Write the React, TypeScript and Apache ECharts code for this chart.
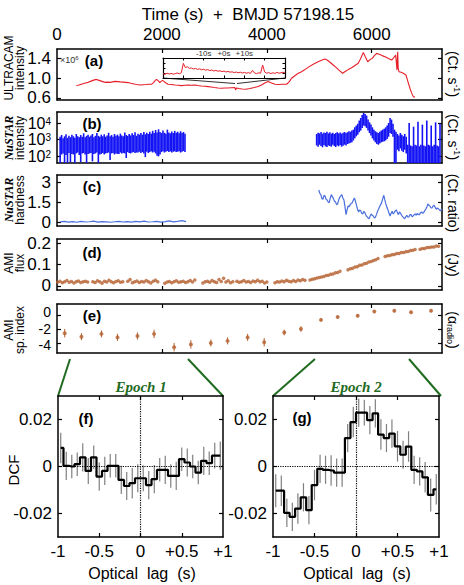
import { useEffect, useRef } from "react";
import * as echarts from "echarts";

const FONT = "Liberation Sans, Arial, Helvetica, sans-serif";
const SERIF = "Liberation Serif, Times New Roman, serif";

// ---------- shared time axis ----------
const timeMax = 7340;
const timeLabels = [0, 2000, 4000, 6000];
const timeTicks = [2000, 4000, 6000];

// ---------- (a) ULTRACAM intensity (x10^6 Ct/s) ----------
const ultracamTime = [370, 420, 480, 540, 592, 650, 700, 751, 790, 830, 870, 910, 960, 1010, 1060, 1110, 1164, 1210, 1260, 1310, 1355, 1410, 1470, 1520, 1578, 1640, 1700, 1750, 1801, 1840, 1870, 1896, 1920, 1945, 1960, 1985, 2011, 2040, 2070, 2118, 2180, 2250, 2310, 2373, 2440, 2500, 2560, 2627, 2690, 2750, 2810, 2881, 2940, 3000, 3070, 3137, 3200, 3260, 3320, 3390, 3405, 3420, 3470, 3530, 3600, 3680, 3760, 3835, 3900, 3960, 4026, 4080, 4154, 4220, 4300, 4377, 4430, 4472, 4520, 4600, 4663, 4720, 4800, 4885, 4950, 5030, 5108, 5150, 5210, 5266, 5320, 5380, 5445, 5500, 5560, 5617, 5680, 5743, 5790, 5839, 5880, 5923, 5970, 6010, 6050, 6094, 6140, 6200, 6253, 6320, 6380, 6420, 6457, 6482, 6495, 6505, 6520, 6560, 6602, 6653, 6690, 6729, 6760, 6793, 6825];
const ultracamFlux = [0.85, 0.86, 0.88, 0.9, 0.915, 0.94, 0.96, 0.975, 0.96, 0.945, 0.93, 0.915, 0.92, 0.915, 0.925, 0.935, 0.93, 0.925, 0.92, 0.915, 0.91, 0.895, 0.88, 0.87, 0.86, 0.865, 0.87, 0.875, 0.875, 0.91, 0.95, 0.975, 0.955, 0.93, 0.91, 0.935, 0.955, 0.935, 0.905, 0.875, 0.87, 0.86, 0.855, 0.848, 0.855, 0.86, 0.855, 0.862, 0.85, 0.84, 0.835, 0.828, 0.82, 0.81, 0.8, 0.795, 0.8, 0.8, 0.805, 0.807, 0.76, 0.8, 0.79, 0.78, 0.775, 0.79, 0.81, 0.83, 0.86, 0.9, 0.93, 0.905, 0.876, 0.87, 0.875, 0.876, 0.93, 0.998, 1.04, 1.1, 1.132, 1.17, 1.23, 1.283, 1.32, 1.36, 1.39, 1.37, 1.32, 1.268, 1.22, 1.16, 1.1, 1.14, 1.18, 1.213, 1.26, 1.303, 1.4, 1.526, 1.43, 1.335, 1.38, 1.404, 1.46, 1.506, 1.49, 1.46, 1.437, 1.4, 1.37, 1.42, 1.471, 1.167, 1.539, 1.2, 1.132, 1.12, 1.1, 1.065, 0.93, 0.795, 0.7, 0.624, 0.612];

// inset: +-30 s around a flare
const insetStart = -30;
const insetStep = 1;
const insetFlux = [2.2, 1.8, 2.4, 2.0, 2.3, 1.9, 2.2, 2.5, 2.1, 2.6, 7.3, 5.2, 5.6, 4.8, 5.0, 4.5, 4.8, 4.3, 4.6, 4.1, 4.4, 3.9, 4.2, 3.7, 4.0, 3.5, 3.8, 3.4, 3.6, 3.2, 3.5, 3.0, 3.3, 2.9, 3.1, 2.7, 3.0, 2.6, 2.9, 2.5, 2.8, 2.4, 2.7, 2.3, 3.8, 2.5, 2.2, 2.6, 2.4, 6.5, 3.0, 2.4, 2.7, 2.2, 2.6, 2.3, 2.8, 2.4, 2.6, 2.9, 2.5];

// ---------- (b) NuSTAR intensity (Ct/s): per-bin min / max ----------
const nustarBin = 28;
const nustar1Start = 60;
const nustarHi1 = [
  1500, 1900, 1200, 1600, 2100, 1300, 1700, 1400, 2000, 1600,
  1300, 2200, 1600, 1400, 1900, 1500, 2400, 1400, 1700, 2000,
  1500, 1800, 2200, 1400, 1700, 2500, 1700, 1500, 2000, 1600,
  2100, 1500, 1800, 2600, 1600, 1900, 1500, 2200, 1700, 2000,
  1600, 2300, 1800, 1600, 2700, 1900, 1700, 2200, 1800, 2400,
  1900, 2800, 1700, 2300, 2000, 2500, 2000, 2900, 2100, 2600,
  2200, 3000, 2300, 3400, 2500, 3800, 2700, 4200, 2900, 2500,
  3500, 2600, 2300, 4000, 2700, 2400, 3100, 2500, 3400, 2600,
  3000, 2400, 3200, 2500, 2900, 2300,
];
const nustarLo1 = [
  40, 130, 150, 40, 120, 35, 160, 45, 140, 130,
  40, 150, 170, 120, 45, 150, 160, 130, 40, 140,
  150, 160, 50, 140, 150, 170, 40, 130, 140, 160,
  130, 150, 160, 170, 60, 150, 160, 130, 150, 140,
  140, 170, 150, 160, 150, 80, 180, 160, 150, 170,
  180, 160, 170, 170, 190, 160, 180, 150, 90, 190,
  160, 180, 200, 170, 190, 150, 110, 100, 130, 180,
  200, 170, 190, 210, 180, 200, 170, 190, 200, 180,
  190, 200, 170, 190, 210, 180,
];
const nustar2Start = 4950;
const nustarHi2 = [
  2200, 2600, 2400, 2900, 2300, 2700, 2500, 3000, 2400, 2800,
  2300, 2600, 2200, 2500, 2800, 2400, 2700, 2300, 2600, 2900,
  2500, 2800, 3200, 3000, 3500,
  4000, 5500, 7000, 9000, 14000, 20000,
  30000, 40000, 35000, 28000,
  16000, 11000, 8000, 5500, 4000, 3200, 2800, 2500,
  3000, 3500, 4000, 4500, 5500, 7000, 10000,
  20000, 16000, 9000,
  4000, 3000,
  2200, 1800, 2500, 2000, 1600, 2200, 1500,
  500, 10000, 450, 400, 6000, 500, 450, 12000, 400, 500, 8000, 450, 400, 14000, 500, 450, 7000, 400, 500, 11000, 450, 400, 9000,
];
const nustarLo2 = [
  450, 380, 500, 420, 350, 480, 400, 360, 450, 420,
  380, 500, 420, 360, 450, 400, 480, 380, 430, 500,
  450, 550, 600, 650, 700,
  900, 1200, 1600, 2000, 2800, 3500,
  5000, 7000, 6500, 5000,
  3500, 2500, 1800, 1200, 900, 700, 550, 500,
  600, 700, 750, 800, 900, 1100, 1500,
  2500, 2200, 1500,
  12, 12,
  250, 200, 300, 220, 180, 250, 150,
  15, 15, 15, 15, 15, 15, 15, 15, 15, 15, 15, 15, 15, 15, 15, 15, 15, 15, 15, 15, 15, 15, 15,
];

// ---------- (c) NuSTAR hardness (Ct. ratio) ----------
const hardness1Start = 60;
const hardness1Step = 80;
const hardness1 = [0.06, 0.1, 0.04, 0.08, 0.03, 0.09, 0.05, 0.07, 0.11, 0.04, 0.08, 0.06, 0.03, 0.07, 0.1, 0.05, 0.08, 0.04, 0.09, 0.06, 0.12, 0.05, 0.07, 0.1, 0.04, 0.08, 0.13, 0.06, 0.1, 0.15, 0.08];
const hardness2Time = [4990, 5010, 5030, 5050, 5070, 5090, 5110, 5130, 5150, 5170, 5190, 5210, 5230, 5250, 5270, 5290, 5310, 5330, 5350, 5370, 5390, 5410, 5430, 5450, 5470, 5490, 5510, 5530, 5550, 5570, 5590, 5610, 5630, 5650, 5670, 5690, 5710, 5730, 5750, 5770, 5790, 5810, 5830, 5850, 5870, 5890, 5910, 5930, 5950, 5970, 5990, 6010, 6030, 6050, 6070, 6090, 6110, 6130, 6150, 6170, 6190, 6210, 6230, 6250, 6270, 6290, 6310, 6330, 6350, 6370, 6390, 6410, 6430, 6450, 6470, 6490, 6510, 6530, 6550, 6570, 6590, 6610, 6630, 6650, 6670, 6690, 6710, 6730, 6750, 6770, 6790, 6810, 6830, 6850, 6870, 6890, 6910, 6930, 6950, 6970, 6990, 7010, 7030, 7050, 7070, 7090, 7110, 7130, 7150, 7170, 7190, 7210, 7230, 7250, 7270, 7290, 7310, 7330, 7340];
const hardness2 = [2.45, 2.2, 2.1, 1.8, 1.75, 2.05, 2.0, 1.75, 1.7, 1.55, 1.5, 1.85, 2.1, 1.95, 1.8, 1.6, 1.55, 1.35, 1.4, 1.7, 1.9, 2.0, 2.1, 1.85, 1.7, 1.2, 0.6, 0.95, 1.25, 1.2, 1.35, 1.45, 1.5, 1.7, 1.85, 1.6, 1.3, 1.0, 0.8, 0.95, 0.9, 0.7, 0.65, 0.85, 0.75, 0.55, 0.45, 0.35, 0.3, 0.5, 0.65, 0.55, 0.5, 0.35, 0.4, 0.6, 0.85, 1.0, 1.2, 1.35, 1.5, 1.8, 2.05, 1.7, 1.4, 1.15, 0.95, 0.7, 0.5, 0.7, 0.85, 0.65, 0.75, 0.9, 0.95, 0.75, 0.6, 0.8, 0.7, 0.55, 0.45, 0.35, 0.3, 0.45, 0.55, 0.4, 0.45, 0.6, 0.6, 0.45, 0.5, 0.6, 0.65, 0.55, 0.7, 0.6, 0.6, 0.75, 0.8, 0.7, 0.75, 0.9, 1.0, 1.15, 1.4, 1.3, 1.25, 1.1, 1.1, 1.25, 1.3, 1.15, 1.0, 1.1, 1.05, 0.95, 0.9, 1.0, 1.05];

// ---------- (d) AMI flux (Jy) ----------
const amiFluxSegStart = [13, 683, 1349, 2055, 2780, 3429, 4155, 4823, 5548, 6255, 6922];
const amiFluxStep = 44;
const amiFluxSeg1 = [0.018, 0.022, 0.015, 0.02, 0.025, 0.017, 0.021, 0.014, 0.02, 0.023, 0.016, 0.019, 0.022, 0.018];
const amiFluxSeg2 = [0.02, 0.016, 0.024, 0.019, 0.013, 0.022, 0.018, 0.026, 0.02, 0.015, 0.021, 0.024, 0.017, 0.02];
const amiFluxSeg3 = [0.022, 0.03, 0.015, 0.019, 0.023, 0.016, 0.021, 0.018, 0.025, 0.02, 0.014, 0.022, 0.027, 0.019];
const amiFluxSeg4 = [0.012, 0.018, 0.021, 0.015, 0.02, 0.024, 0.017, 0.019, 0.022, 0.016, 0.02, 0.025, 0.018, 0.028];
const amiFluxSeg5 = [0.014, 0.019, 0.022, 0.017, 0.025, 0.02, 0.016, 0.03, 0.021, 0.036, 0.018, 0.024, 0.015, 0.02];
const amiFluxSeg6 = [0.022, 0.017, 0.02, 0.025, 0.018, 0.021, 0.016, 0.023, 0.02, 0.027, 0.019, 0.022, 0.014, 0.018];
const amiFluxSeg7 = [0.015, 0.02, 0.018, 0.023, 0.02, 0.026, 0.022, 0.019, 0.025, 0.021, 0.028, 0.024, 0.03, 0.026];
const amiFluxSeg8 = [0.028, 0.031, 0.033, 0.037, 0.039, 0.042, 0.044, 0.049, 0.05, 0.055, 0.056, 0.061, 0.063, 0.068];
const amiFluxSeg9 = [0.075, 0.08, 0.082, 0.088, 0.09, 0.096, 0.098, 0.103, 0.106, 0.112, 0.114, 0.119, 0.122, 0.128];
const amiFluxSeg10 = [0.137, 0.141, 0.142, 0.146, 0.147, 0.151, 0.151, 0.156, 0.156, 0.16, 0.161, 0.165, 0.166, 0.17];
const amiFluxSeg11 = [0.171, 0.175, 0.175, 0.179, 0.179, 0.182, 0.182, 0.186, 0.185];
const amiFluxSegs = [amiFluxSeg1, amiFluxSeg2, amiFluxSeg3, amiFluxSeg4, amiFluxSeg5, amiFluxSeg6, amiFluxSeg7, amiFluxSeg8, amiFluxSeg9, amiFluxSeg10, amiFluxSeg11];

// ---------- (e) AMI spectral index ----------
const amiIndexTime = [147, 466, 847, 1153, 1534, 1851, 2233, 2552, 2933, 3252, 3634, 3950, 4332, 4651, 5033, 5351, 5733, 6050, 6431, 6750, 7132];
const amiIndexValue = [-2.6, -3.1, -2.7, -3.2, -3.0, -2.7, -4.6, -4.2, -4.0, -3.7, -3.2, -3.9, -2.5, -2.0, -0.7, -0.3, -0.1, 0.5, 0.6, 0.4, 0.6];
const amiIndexErr = [0.6, 0.5, 0.5, 0.5, 0.5, 0.6, 0.6, 0.6, 0.5, 0.5, 0.5, 0.6, 0.4, 0.4, 0.2, 0.2, 0.2, 0.2, 0.2, 0.2, 0.2];

// ---------- (f), (g) DCF ----------
const lagCenters = [-0.967, -0.9, -0.833, -0.767, -0.7, -0.633, -0.567, -0.5, -0.433, -0.367, -0.3, -0.233, -0.167, -0.1, -0.033, 0.033, 0.1, 0.167, 0.233, 0.3, 0.367, 0.433, 0.5, 0.567, 0.633, 0.7, 0.767, 0.833, 0.9, 0.967];
const dcfEpoch1 = [0.0079, 0.0003, 0.0, 0.001, 0.0039, -0.0019, 0.0039, -0.0043, -0.0019, 0.0003, 0.0003, -0.0057, -0.0083, -0.0071, -0.005, -0.005, -0.0079, -0.0054, -0.0014, -0.0014, -0.004, -0.004, 0.0031, 0.0017, 0.0, -0.0026, 0.0024, 0.0014, 0.0046, 0.0046];
const dcfErr1 = [0.0065, 0.006, 0.005, 0.005, 0.006, 0.0055, 0.005, 0.006, 0.006, 0.005, 0.005, 0.006, 0.006, 0.0065, 0.006, 0.0055, 0.006, 0.006, 0.005, 0.006, 0.005, 0.006, 0.005, 0.006, 0.005, 0.005, 0.006, 0.005, 0.0055, 0.006];
const dcfEpoch2 = [-0.0103, -0.0103, -0.0197, -0.0214, -0.0179, -0.0131, -0.0186, -0.0079, -0.001, -0.0014, -0.0017, -0.0026, -0.0026, 0.0121, 0.0189, 0.0229, 0.0229, 0.0197, 0.0226, 0.0136, 0.0121, 0.014, 0.0086, 0.005, 0.0085, -0.0014, -0.0021, -0.0046, -0.0121, -0.0097];
const dcfErr2 = [0.007, 0.0065, 0.006, 0.006, 0.0065, 0.006, 0.006, 0.0065, 0.006, 0.006, 0.0065, 0.006, 0.006, 0.006, 0.0065, 0.006, 0.0055, 0.006, 0.006, 0.0065, 0.006, 0.006, 0.0065, 0.006, 0.0065, 0.006, 0.006, 0.0065, 0.007, 0.0065];

// ---------- colours ----------
const RED = "#e61e28";
const BLUE = "#1414f5";
const LIGHTBLUE = "#4b6fdc";
const BROWN = "#b5602f";
const GREEN = "#1f6b1f";

function buildOption() {
  const grids = [
    { left: 57, top: 49, width: 385, height: 51 }, // a
    { left: 57, top: 112, width: 385, height: 51 }, // b
    { left: 57, top: 175, width: 385, height: 51 }, // c
    { left: 57, top: 239, width: 385, height: 51 }, // d
    { left: 57, top: 304, width: 385, height: 49 }, // e
    { left: 58, top: 396, width: 165, height: 141 }, // f
    { left: 273, top: 396, width: 166, height: 141 }, // g
    { left: 163, top: 58, width: 122, height: 20, show: true, backgroundColor: "#fff", borderWidth: 0 }, // inset
  ];

  const lineStyle = { color: "#000", width: 1.5 };
  const tickStyle = { color: "#000", width: 1.2 };
  const labelBase = {
    show: true, color: "#000", fontSize: 17, fontFamily: FONT, margin: 6, hideOverlap: false,
  };
  const mkAxis = (
    gridIndex: number,
    position: string,
    min: number,
    max: number,
    ticks: number[],
    labels: number[] | null,
    fmt?: (v: number) => string,
    extra: any = {},
    labelExtra: any = {},
  ) => ({
    type: "value",
    gridIndex,
    position,
    min,
    max,
    axisLine: { show: true, onZero: false, lineStyle },
    axisTick: { show: ticks.length > 0, inside: true, length: 4, customValues: ticks, lineStyle: tickStyle },
    axisLabel: labels ? { ...labelBase, customValues: labels, formatter: fmt, ...labelExtra } : { show: false },
    splitLine: { show: false },
    ...extra,
  });

  const fmtNum = (v: number) => String(v);
  const fmtOne = (v: number) => v.toFixed(1);
  const fmtLag = (v: number) => (v > 0 ? "+" + v : String(v));
  const fmtPow = (v: number) => `{b|10}{s|${Math.round(Math.log10(v))}}`;
  const powRich = {
    b: { fontSize: 16, fontFamily: FONT, color: "#000", lineHeight: 14 },
    s: { fontSize: 10, fontFamily: FONT, color: "#000", verticalAlign: "top", lineHeight: 7 },
  };
  // (e) labels are only 14 px apart: nudge the outer two away from the middle one
  const fmtIdx = (v: number) => (v === 0 ? `{up|${v}}` : v === -4 ? `{dn|${v}}` : `{md|${v}}`);
  const idxRich = {
    up: { fontSize: 14, fontFamily: FONT, color: "#000", padding: [0, 0, 5, 0] },
    md: { fontSize: 14, fontFamily: FONT, color: "#000" },
    dn: { fontSize: 14, fontFamily: FONT, color: "#000", padding: [5, 0, 0, 0] },
  };

  const xAxes: any[] = [];
  const yAxes: any[] = [];
  const yRanges: [number, number][] = [
    [0.555, 1.595],
    [40, 45700],
    [-0.25, 3.57],
    [-0.019, 0.219],
    [-5.43, 1.57],
  ];
  const yTickSets = [[0.6, 1.0, 1.4], [100, 1000, 10000], [0, 1.5, 3], [0, 0.1, 0.2], [-4, -2, 0]];
  const yLabelMain: (number[] | null)[] = [[0.6, 1.0, 1.4], [100, 10000], [0, 1.5, 3], [0, 0.1, 0.2], null];
  const yFmts = [fmtOne, fmtPow, fmtNum, fmtNum, fmtIdx];
  // extra label-only axes, so that tightly packed labels are all kept
  const labelOnly = [
    { k: 1, vals: [1000], style: { rich: powRich } },
    { k: 4, vals: [0], style: { rich: idxRich } },
    { k: 4, vals: [-2], style: { rich: idxRich } },
    { k: 4, vals: [-4], style: { rich: idxRich } },
  ];
  for (let k = 0; k < 5; k++) {
    xAxes.push(mkAxis(k, "bottom", 0, timeMax, timeTicks, null));
    xAxes.push(
      k === 0
        ? mkAxis(k, "top", 0, timeMax, timeTicks, timeLabels, fmtNum)
        : mkAxis(k, "top", 0, timeMax, timeTicks, null),
    );
    const extra: any = k === 1 ? { type: "log", logBase: 10 } : {};
    const lblExtra = k === 1 ? { rich: powRich } : {};
    yAxes.push(mkAxis(k, "left", yRanges[k][0], yRanges[k][1], yTickSets[k], yLabelMain[k], yFmts[k], extra, lblExtra));
    yAxes.push(mkAxis(k, "right", yRanges[k][0], yRanges[k][1], yTickSets[k], null, undefined, extra));
  }
  for (let k = 5; k < 7; k++) {
    xAxes.push(mkAxis(k, "bottom", -1, 1, [-0.5, 0, 0.5], [-1, -0.5, 0, 0.5, 1], fmtLag));
    xAxes.push(mkAxis(k, "top", -1, 1, [-0.5, 0, 0.5], null));
    yAxes.push(mkAxis(k, "left", -0.03, 0.03, [-0.02, 0, 0.02], [-0.02, 0, 0.02], fmtNum));
    yAxes.push(mkAxis(k, "right", -0.03, 0.03, [-0.02, 0, 0.02], null));
  }
  const insetLine = { show: true, onZero: false, lineStyle: { color: "#000", width: 1.2 } };
  const insetTick = { show: true, inside: true, length: 2.5, lineStyle: { color: "#000", width: 1 } };
  xAxes.push({
    type: "value", gridIndex: 7, position: "bottom", min: -30, max: 30,
    axisLine: insetLine, axisTick: { ...insetTick, customValues: [-20, -10, 0, 10, 20] },
    axisLabel: { show: false }, splitLine: { show: false },
  });
  xAxes.push({
    type: "value", gridIndex: 7, position: "top", min: -30, max: 30,
    axisLine: insetLine, axisTick: { ...insetTick, customValues: [-20, -10, 0, 10, 20] },
    axisLabel: {
      show: true, customValues: [-10, 0, 10], margin: 1, fontSize: 8, color: "#333", fontFamily: FONT, hideOverlap: false,
      formatter: (v: number) => (v < 0 ? v + "s" : "+" + v + "s"),
    },
    splitLine: { show: false },
  });
  yAxes.push({
    type: "value", gridIndex: 7, position: "left", min: 0, max: 10,
    axisLine: insetLine, axisTick: { ...insetTick, customValues: [2.5, 5, 7.5] },
    axisLabel: { show: false }, splitLine: { show: false },
  });
  yAxes.push({
    type: "value", gridIndex: 7, position: "right", min: 0, max: 10,
    axisLine: insetLine, axisTick: { ...insetTick, customValues: [2.5, 5, 7.5] },
    axisLabel: { show: false }, splitLine: { show: false },
  });
  labelOnly.forEach(({ k, vals, style }) => {
    yAxes.push({
      type: k === 1 ? "log" : "value", ...(k === 1 ? { logBase: 10 } : {}),
      gridIndex: k, position: "left", min: yRanges[k][0], max: yRanges[k][1],
      axisLine: { show: false }, axisTick: { show: false }, splitLine: { show: false },
      axisLabel: { ...labelBase, customValues: vals, formatter: yFmts[k], ...style },
    });
  });

  // vertical segment in data space: error bar (value +- err) or range (lo..hi)
  const vRender = (color: string, width: number, mode: "err" | "range") => (_p: any, api: any) => {
    const x = api.value(0) as number;
    const a = api.value(1) as number;
    const b = api.value(2) as number;
    const p1 = mode === "err" ? api.coord([x, a - b]) : api.coord([x, a]);
    const p2 = mode === "err" ? api.coord([x, a + b]) : api.coord([x, b]);
    return {
      type: "line",
      shape: { x1: p1[0], y1: p1[1], x2: p2[0], y2: p2[1] },
      style: { stroke: color, lineWidth: width },
    };
  };

  const series: any[] = [];
  series.push({
    type: "line", xAxisIndex: 0, yAxisIndex: 0, showSymbol: false, symbol: "none",
    data: ultracamTime.map((t, i) => [t, ultracamFlux[i]]),
    lineStyle: { color: RED, width: 1.1 },
  });
  series.push({
    type: "line", xAxisIndex: 14, yAxisIndex: 14, showSymbol: false, symbol: "none",
    data: insetFlux.map((v, i) => [insetStart + i * insetStep, v]),
    lineStyle: { color: RED, width: 1 },
  });
  series.push({
    type: "custom", xAxisIndex: 2, yAxisIndex: 2, clip: true,
    data: nustarLo1.map((lo, i) => [nustar1Start + i * nustarBin, lo, nustarHi1[i]]),
    encode: { x: 0, y: [1, 2] }, renderItem: vRender(BLUE, 1.6, "range"),
  });
  series.push({
    type: "custom", xAxisIndex: 2, yAxisIndex: 2, clip: true,
    data: nustarLo2.map((lo, i) => [nustar2Start + i * nustarBin, lo, nustarHi2[i]]),
    encode: { x: 0, y: [1, 2] }, renderItem: vRender(BLUE, 1.6, "range"),
  });
  series.push({
    type: "line", xAxisIndex: 4, yAxisIndex: 4, showSymbol: false, symbol: "none",
    data: hardness1.map((v, i) => [hardness1Start + i * hardness1Step, v]),
    lineStyle: { color: LIGHTBLUE, width: 1.2 },
  });
  series.push({
    type: "line", xAxisIndex: 4, yAxisIndex: 4, showSymbol: false, symbol: "none",
    data: hardness2Time.map((t, i) => [t, hardness2[i]]),
    lineStyle: { color: LIGHTBLUE, width: 1.2 },
  });
  const fluxPts: number[][] = [];
  amiFluxSegs.forEach((seg, s) => seg.forEach((v, i) => fluxPts.push([amiFluxSegStart[s] + i * amiFluxStep, v])));
  series.push({
    type: "scatter", xAxisIndex: 6, yAxisIndex: 6, symbolSize: 3.5,
    data: fluxPts, itemStyle: { color: BROWN },
  });
  series.push({
    type: "custom", xAxisIndex: 8, yAxisIndex: 8,
    data: amiIndexTime.map((t, i) => [t, amiIndexValue[i], amiIndexErr[i]]),
    encode: { x: 0, y: 1 }, renderItem: vRender(BROWN, 1, "err"),
  });
  series.push({
    type: "scatter", xAxisIndex: 8, yAxisIndex: 8, symbolSize: 4,
    data: amiIndexTime.map((t, i) => [t, amiIndexValue[i]]), itemStyle: { color: BROWN },
  });
  const dcfSets = [
    { v: dcfEpoch1, e: dcfErr1, ax: 10 },
    { v: dcfEpoch2, e: dcfErr2, ax: 12 },
  ];
  dcfSets.forEach(({ v, e, ax }) => {
    series.push({
      type: "custom", xAxisIndex: ax, yAxisIndex: ax, z: 2,
      data: lagCenters.map((x, i) => [x, v[i], e[i]]),
      encode: { x: 0, y: 1 }, renderItem: vRender("#808080", 1.2, "err"),
    });
    series.push({
      type: "line", xAxisIndex: ax, yAxisIndex: ax, z: 4, step: "middle", showSymbol: false, symbol: "none",
      data: lagCenters.map((x, i) => [x, v[i]]),
      lineStyle: { color: "#000", width: 2.2 },
      markLine: {
        symbol: "none", silent: true, label: { show: false },
        lineStyle: { type: "dotted", color: "#000", width: 1.2 },
        data: [{ xAxis: 0 }, { yAxis: 0 }],
      },
    });
  });

  const txt = (x: number, y: number, text: string, style: any, rotation = 0) => ({
    type: "text", x, y, rotation, silent: true,
    style: { text, fill: "#000", fontFamily: FONT, align: "center", verticalAlign: "middle", ...style },
  });
  const sideRich = {
    t: { fontSize: 12, fontFamily: FONT, fill: "#000", lineHeight: 11 },
    n: { fontSize: 12, fontFamily: SERIF, fontStyle: "italic", fontWeight: "bold", fill: "#000", lineHeight: 11 },
  };
  const unitRich = {
    u: { fontSize: 14, fontFamily: FONT, fill: "#000", lineHeight: 16 },
    sup: { fontSize: 9, fontFamily: FONT, fill: "#000", lineHeight: 9, verticalAlign: "top" },
    sub: { fontSize: 9, fontFamily: FONT, fill: "#000", lineHeight: 9, verticalAlign: "bottom" },
  };
  const panelLabel = { fontSize: 15, fontWeight: "bold" };
  const greenLine = (x1: number, y1: number, x2: number, y2: number) => ({
    type: "line", silent: true, shape: { x1, y1, x2, y2 }, style: { stroke: GREEN, lineWidth: 2 },
  });
  const greyLine = (x1: number, y1: number, x2: number, y2: number) => ({
    type: "line", silent: true, shape: { x1, y1, x2, y2 }, style: { stroke: "#333", lineWidth: 1 },
  });

  const graphic: any[] = [
    txt(248, 14, "Time (s)  +  BMJD 57198.15", { fontSize: 17 }),
    txt(14, 68, "{t|ULTRACAM}\n{t|intensity}", { rich: sideRich }, Math.PI / 2),
    txt(14, 138, "{n|NuSTAR}\n{t|intensity}", { rich: sideRich }, Math.PI / 2),
    txt(14, 200, "{n|NuSTAR}\n{t|hardness}", { rich: sideRich }, Math.PI / 2),
    txt(14, 263, "{t|AMI}\n{t|flux}", { rich: sideRich }, Math.PI / 2),
    txt(14, 330, "{t|AMI}\n{t|sp. index}", { rich: sideRich }, Math.PI / 2),
    txt(453, 74, "{u|(Ct. s}{sup|-1}{u|)}", { rich: unitRich }, -Math.PI / 2),
    txt(453, 137, "{u|(Ct. s}{sup|-1}{u|)}", { rich: unitRich }, -Math.PI / 2),
    txt(453, 203, "{u|(Ct. ratio)}", { rich: unitRich }, -Math.PI / 2),
    txt(453, 265, "{u|(Jy)}", { rich: unitRich }, -Math.PI / 2),
    txt(453, 330, "{u|(α}{sub|radio}{u|)}", { rich: unitRich }, -Math.PI / 2),
    txt(94, 60, "(a)", panelLabel),
    txt(92, 123, "(b)", panelLabel),
    txt(92, 186, "(c)", panelLabel),
    txt(92, 252, "(d)", panelLabel),
    txt(92, 315, "(e)", panelLabel),
    txt(86, 418, "(f)", panelLabel),
    txt(302, 417, "(g)", panelLabel),
    {
      type: "text", x: 60, y: 60, silent: true,
      style: {
        text: "{m|×10}{p|6}", align: "left", verticalAlign: "middle",
        rich: {
          m: { fontSize: 9, fontFamily: FONT, fill: "#333", lineHeight: 11 },
          p: { fontSize: 6, fontFamily: FONT, fill: "#333", lineHeight: 6, verticalAlign: "top" },
        },
      },
    },
    greyLine(163, 78, 235, 83.5),
    greyLine(285, 78, 237, 83.5),
    greenLine(70, 359, 58, 396),
    greenLine(188, 359, 223, 396),
    greenLine(315, 359, 273, 396),
    greenLine(409, 359, 441, 396),
    txt(141, 387, "Epoch 1", { fontSize: 15, fontFamily: SERIF, fontStyle: "italic", fontWeight: "bold", fill: GREEN }),
    txt(356, 387, "Epoch 2", { fontSize: 15, fontFamily: SERIF, fontStyle: "italic", fontWeight: "bold", fill: GREEN }),
    txt(13, 470, "DCF", { fontSize: 15 }, Math.PI / 2),
    txt(142, 573, "Optical  lag  (s)", { fontSize: 16 }),
    txt(357, 573, "Optical  lag  (s)", { fontSize: 16 }),
  ];

  return {
    animation: false,
    backgroundColor: "#fff",
    textStyle: { fontFamily: FONT },
    grid: grids,
    xAxis: xAxes,
    yAxis: yAxes,
    series,
    graphic,
  };
}

export default function App() {
  const ref = useRef<HTMLDivElement>(null);
  useEffect(() => {
    if (!ref.current) return;
    const chart = echarts.init(ref.current, undefined, { renderer: "svg" });
    chart.setOption(buildOption() as any);
    return () => chart.dispose();
  }, []);
  return (
    <div
      ref={ref}
      style={{ position: "absolute", left: 0, top: 0, width: 464, height: 585, background: "#fff" }}
    />
  );
}
